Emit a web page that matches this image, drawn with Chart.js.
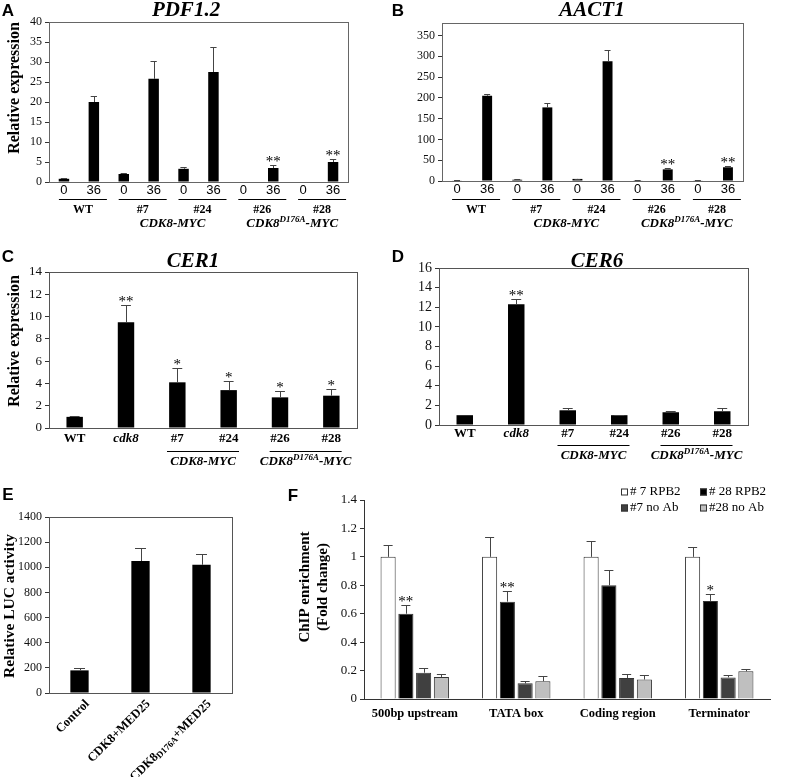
<!DOCTYPE html>
<html>
<head>
<meta charset="utf-8">
<script src="https://cdn.jsdelivr.net/npm/chart.js@4.4.0/dist/chart.umd.min.js"></script>
<style>
  body { margin: 0; background: #fff; width: 786px; height: 777px; position: relative; overflow: hidden; }
  canvas { position: absolute; }
</style>
</head>
<body>
<canvas id="panelA"></canvas>
<canvas id="panelB"></canvas>
<canvas id="panelC"></canvas>
<canvas id="panelD"></canvas>
<canvas id="panelE"></canvas>
<canvas id="panelF"></canvas>
<script>
// ---- data ----

// A / B : 0 h and 36 h for each line
const timeLabels = ["0", "36", "0", "36", "0", "36", "0", "36", "0", "36"];
const pairNames = ["WT", "#7", "#24", "#26", "#28"];
const pdfValues = [0.8, 20, 2, 25.8, 3.3, 27.5, 0, 3.5, 0, 5];
const pdfErrors = [0.2, 1.5, 0.3, 4.5, 0.5, 6.3, 0, 0.8, 0, 0.8];
const pdfStars = ["", "", "", "", "", "", "", "**", "", "**"];
const aactValues = [1, 205, 3, 177, 5, 288, 1, 28, 1, 33];
const aactErrors = [0.5, 5, 1, 10, 1, 28, 0.5, 4, 0.5, 4];
const aactStars = ["", "", "", "", "", "", "", "**", "", "**"];

// C / D
const lineLabels = ["WT", "cdk8", "#7", "#24", "#26", "#28"];
const cer1Values = [1, 9.5, 4.1, 3.4, 2.75, 2.9];
const cer1Errors = [0.05, 1.55, 1.25, 0.8, 0.6, 0.6];
const cer1Stars = ["", "**", "*", "*", "*", "*"];
const cer6Values = [1, 12.3, 1.5, 1.0, 1.3, 1.4];
const cer6Errors = [0, 0.5, 0.25, 0.05, 0.15, 0.3];
const cer6Stars = ["", "**", "", "", "", ""];

// E
const lucLabels = ["Control", "CDK8+MED25", "CDK8D176A+MED25"];
const lucValues = [180, 1050, 1020];
const lucErrors = [15, 105, 85];

// F
const regions = ["500bp upstream", "TATA box", "Coding region", "Terminator"];
const chipNames = ["# 7 RPB2", "# 28 RPB2", "#7 no Ab", "#28 no Ab"];
const chip7Rpb2 = [1, 1, 1, 1];
const chip7Rpb2Err = [0.085, 0.14, 0.11, 0.07];
const chip28Rpb2 = [0.6, 0.685, 0.8, 0.69];
const chip28Rpb2Err = [0.06, 0.075, 0.105, 0.05];
const chip28Stars = ["**", "**", "", "*"];
const chip7NoAb = [0.185, 0.11, 0.148, 0.152];
const chip7NoAbErr = [0.03, 0.02, 0.03, 0.02];
const chip28NoAb = [0.155, 0.125, 0.137, 0.195];
const chip28NoAbErr = [0.02, 0.035, 0.03, 0.013];

const SERIF = "'Liberation Serif', 'Times New Roman', serif";
const SANS = "'Liberation Sans', Arial, sans-serif";

// ---- shared plugins ----

const errorBars = {
  id: "errorBars",
  afterDatasetsDraw(chart) {
    const ctx = chart.ctx;
    const y = chart.scales.y;
    chart.data.datasets.forEach((ds, i) => {
      if (!ds.errors) return;
      const meta = chart.getDatasetMeta(i);
      meta.data.forEach((bar, j) => {
        const v = ds.data[j];
        const e = ds.errors[j] || 0;
        const top = y.getPixelForValue(v + e);
        const cap = Math.max(3, bar.width * 0.3);
        ctx.save();
        if (e > 0) {
          ctx.strokeStyle = "#444";
          ctx.lineWidth = 1;
          ctx.beginPath();
          ctx.moveTo(Math.round(bar.x) + 0.5, bar.y);
          ctx.lineTo(Math.round(bar.x) + 0.5, Math.round(top) + 0.5);
          ctx.moveTo(bar.x - cap, Math.round(top) + 0.5);
          ctx.lineTo(bar.x + cap, Math.round(top) + 0.5);
          ctx.stroke();
        }
        if (ds.stars && ds.stars[j]) {
          ctx.fillStyle = "#000";
          ctx.font = "15px " + SERIF;
          ctx.textAlign = "center";
          ctx.textBaseline = "alphabetic";
          ctx.fillText(ds.stars[j], bar.x, top + 1);
        }
        ctx.restore();
      });
    });
  },
};

function frame(color) {
  return {
    id: "frame",
    afterDraw(chart) {
      const a = chart.chartArea;
      const ctx = chart.ctx;
      ctx.save();
      ctx.strokeStyle = color;
      ctx.lineWidth = 1;
      ctx.strokeRect(Math.round(a.left) + 0.5, Math.round(a.top) + 0.5,
        Math.round(a.right - a.left), Math.round(a.bottom - a.top));
      ctx.restore();
    },
  };
}

function text(ctx, str, x, y, font, align) {
  ctx.font = font;
  ctx.fillStyle = "#000";
  ctx.textAlign = align || "center";
  ctx.textBaseline = "middle";
  ctx.fillText(str, x, y);
}

function vtext(ctx, str, x, y, font) {
  ctx.save();
  ctx.translate(x, y);
  ctx.rotate(-Math.PI / 2);
  text(ctx, str, 0, 0, font);
  ctx.restore();
}

// parts: [{t, sup, sub}], draws a string with raised/lowered small parts
function rich(ctx, parts, x, y, size, style, align) {
  const small = Math.round(size * 0.68);
  let total = 0;
  parts.forEach((p) => {
    ctx.font = style + " " + (p.sup || p.sub ? small : size) + "px " + SERIF;
    p.w = ctx.measureText(p.t).width;
    total += p.w;
  });
  let cx = align === "right" ? x - total : x - total / 2;
  ctx.fillStyle = "#000";
  ctx.textAlign = "left";
  ctx.textBaseline = "middle";
  parts.forEach((p) => {
    ctx.font = style + " " + (p.sup || p.sub ? small : size) + "px " + SERIF;
    const dy = p.sup ? -size * 0.3 : p.sub ? size * 0.2 : 0;
    ctx.fillText(p.t, cx, y + dy);
    cx += p.w;
  });
}

const mutParts = () => [{ t: "CDK8" }, { t: "D176A", sup: true }, { t: "-MYC" }];

function hline(ctx, x1, x2, y) {
  ctx.save();
  ctx.strokeStyle = "#000";
  ctx.lineWidth = 1;
  ctx.beginPath();
  ctx.moveTo(x1, Math.round(y) + 0.5);
  ctx.lineTo(x2, Math.round(y) + 0.5);
  ctx.stroke();
  ctx.restore();
}

function yAxis(max, step, font, fmt) {
  return {
    min: 0,
    max: max,
    ticks: {
      stepSize: step,
      includeBounds: false,
      autoSkip: false,
      color: "#111",
      font: font,
      padding: 3,
      callback: fmt || ((v) => String(v)),
    },
    grid: { display: true, drawOnChartArea: false, drawTicks: true, tickLength: 4, color: "#333" },
    border: { display: true, color: "#333" },
  };
}

function makePanel(id, box, area, config, deco) {
  const canvas = document.getElementById(id);
  canvas.width = box.w;
  canvas.height = box.h;
  canvas.style.left = box.x + "px";
  canvas.style.top = box.y + "px";
  const o = config.options;
  o.responsive = false;
  o.animation = false;
  o.layout = { padding: { left: 0, top: area.top - box.y, right: box.x + box.w - area.right, bottom: 0 } };
  o.plugins = Object.assign({ legend: { display: false }, tooltip: { enabled: false } }, o.plugins || {});
  o.scales.y.afterFit = (s) => { s.width = area.left - box.x; };
  o.scales.x.afterFit = (s) => { s.height = box.y + box.h - area.bottom; };
  config.plugins = (config.plugins || []).concat([{
    id: "deco",
    afterDraw(chart) {
      const ctx = chart.ctx;
      ctx.save();
      ctx.translate(-box.x, -box.y);
      deco(chart, ctx, (i) => chart.scales.x.getPixelForValue(i) + box.x);
      ctx.restore();
    },
  }]);
  return new Chart(canvas, config);
}

function pairAxisX() {
  return {
    grid: { display: false, drawTicks: false },
    border: { display: false },
    ticks: { color: "#000", font: { family: SANS, size: 13 }, padding: 1, autoSkip: false, maxRotation: 0 },
  };
}

function pairDeco(letter, title, titleX, withYLabel) {
  return (chart, ctx, px) => {
    text(ctx, letter, letter === "A" ? 8 : 398, 11, "bold 17px " + SANS);
    text(ctx, title, titleX, 11, "italic bold 21px " + SERIF);
    if (withYLabel) vtext(ctx, "Relative expression", 15, 88, "bold 16px " + SERIF);
    const centers = pairNames.map((n, k) => (px(2 * k) + px(2 * k + 1)) / 2 + 4);
    pairNames.forEach((n, k) => {
      hline(ctx, centers[k] - 24, centers[k] + 24, 199);
      text(ctx, n, centers[k], 210, "bold 12px " + SERIF);
    });
    rich(ctx, [{ t: "CDK8-MYC" }], (centers[1] + centers[2]) / 2, 224, 13, "italic bold", "center");
    rich(ctx, mutParts(), (centers[3] + centers[4]) / 2, 224, 13, "italic bold", "center");
  };
}

// ---- A : PDF1.2 ----
makePanel("panelA", { x: 0, y: 0, w: 390, h: 240 }, { left: 49, right: 348, top: 22, bottom: 182 }, {
  type: "bar",
  data: {
    labels: timeLabels,
    datasets: [{ data: pdfValues, errors: pdfErrors, stars: pdfStars, backgroundColor: "#000",
      barPercentage: 0.35, categoryPercentage: 1 }],
  },
  options: { scales: { x: pairAxisX(), y: yAxis(40, 5, { family: SERIF, size: 12 }) } },
  plugins: [errorBars, frame("#666")],
}, pairDeco("A", "PDF1.2", 186, true));

// ---- B : AACT1 ----
makePanel("panelB", { x: 390, y: 0, w: 396, h: 240 }, { left: 442, right: 743, top: 23, bottom: 181 }, {
  type: "bar",
  data: {
    labels: timeLabels,
    datasets: [{ data: aactValues, errors: aactErrors, stars: aactStars, backgroundColor: "#000",
      barPercentage: 0.33, categoryPercentage: 1 }],
  },
  options: { scales: { x: pairAxisX(), y: yAxis(380, 50, { family: SERIF, size: 12 }) } },
  plugins: [errorBars, frame("#666")],
}, pairDeco("B", "AACT1", 592, false));

// ---- C / D : CER1, CER6 ----
function lineAxisX(pad) {
  return {
    grid: { display: false, drawTicks: false },
    border: { display: false },
    ticks: {
      color: "#000",
      padding: pad,
      autoSkip: false,
      maxRotation: 0,
      font: (c) => ({ family: SERIF, size: 13, weight: "bold", style: c.index === 1 ? "italic" : "normal" }),
    },
  };
}

function lineDeco(letter, letterX, title, titleX, lineY, labelY, withYLabel) {
  return (chart, ctx, px) => {
    text(ctx, letter, letterX, 257, "bold 17px " + SANS);
    text(ctx, title, titleX, 262, "italic bold 21px " + SERIF);
    if (withYLabel) vtext(ctx, "Relative expression", 15, 341, "bold 16px " + SERIF);
    const c1 = (px(2) + px(3)) / 2;
    const c2 = (px(4) + px(5)) / 2;
    hline(ctx, c1 - 36, c1 + 36, lineY);
    hline(ctx, c2 - 36, c2 + 36, lineY);
    rich(ctx, [{ t: "CDK8-MYC" }], c1, labelY, 13, "italic bold", "center");
    rich(ctx, mutParts(), c2, labelY, 13, "italic bold", "center");
  };
}

makePanel("panelC", { x: 0, y: 245, w: 390, h: 222 }, { left: 49, right: 357, top: 272, bottom: 428 }, {
  type: "bar",
  data: {
    labels: lineLabels,
    datasets: [{ data: cer1Values, errors: cer1Errors, stars: cer1Stars, backgroundColor: "#000",
      barPercentage: 0.32, categoryPercentage: 1 }],
  },
  options: { scales: { x: lineAxisX(3), y: yAxis(14, 2, { family: SERIF, size: 13 }) } },
  plugins: [errorBars, frame("#555")],
}, lineDeco("C", 8, "CER1", 193, 451, 462, true));

makePanel("panelD", { x: 390, y: 245, w: 396, h: 222 }, { left: 439, right: 748, top: 268, bottom: 425 }, {
  type: "bar",
  data: {
    labels: lineLabels,
    datasets: [{ data: cer6Values, errors: cer6Errors, stars: cer6Stars, backgroundColor: "#000",
      barPercentage: 0.32, categoryPercentage: 1 }],
  },
  options: { scales: { x: lineAxisX(1), y: yAxis(16, 2, { family: SERIF, size: 14 }) } },
  plugins: [errorBars, frame("#555")],
}, lineDeco("D", 398, "CER6", 597, 445, 456, false));

// ---- E : LUC activity ----
makePanel("panelE", { x: 0, y: 470, w: 260, h: 307 }, { left: 49, right: 232, top: 517, bottom: 693 }, {
  type: "bar",
  data: {
    labels: lucLabels,
    datasets: [{ data: lucValues, errors: lucErrors, backgroundColor: "#000",
      barPercentage: 0.3, categoryPercentage: 1 }],
  },
  options: {
    scales: {
      x: { grid: { display: false, drawTicks: false }, border: { display: false }, ticks: { display: false } },
      y: yAxis(1400, 200, { family: SERIF, size: 12 }),
    },
  },
  plugins: [errorBars, frame("#555")],
}, (chart, ctx, px) => {
  text(ctx, "E", 8, 495, "bold 17px " + SANS);
  vtext(ctx, "Relative LUC activity", 10, 606, "bold 15.5px " + SERIF);
  chart.data.labels.forEach((lab, i) => {
    const m = lab.match(/^(CDK8)(D176A)(\+MED25)$/);
    const parts = m ? [{ t: m[1] }, { t: m[2], sub: true }, { t: m[3] }] : [{ t: lab }];
    ctx.save();
    ctx.translate(px(i) + 8, 702);
    ctx.rotate(-Math.PI / 4);
    rich(ctx, parts, 0, 0, 12.5, "bold", "right");
    ctx.restore();
  });
});

// ---- F : ChIP ----
const chipColors = ["#ffffff", "#000000", "#404040", "#bfbfbf"];
const chipData = [chip7Rpb2, chip28Rpb2, chip7NoAb, chip28NoAb];
const chipErrs = [chip7Rpb2Err, chip28Rpb2Err, chip7NoAbErr, chip28NoAbErr];

makePanel("panelF", { x: 260, y: 470, w: 526, h: 307 }, { left: 364, right: 770, top: 500, bottom: 699 }, {
  type: "bar",
  data: {
    labels: regions,
    datasets: chipNames.map((name, k) => ({
      label: name,
      data: chipData[k],
      errors: chipErrs[k],
      stars: k === 1 ? chip28Stars : null,
      backgroundColor: chipColors[k],
      borderColor: "#333",
      borderWidth: 1,
      barPercentage: 0.85,
      categoryPercentage: 0.7,
    })),
  },
  options: {
    scales: {
      x: {
        grid: { display: false, drawTicks: false },
        border: { display: true, color: "#333" },
        ticks: { color: "#000", padding: 7, autoSkip: false, maxRotation: 0,
          font: { family: SERIF, size: 12.5, weight: "bold" } },
      },
      y: yAxis(1.4, 0.2, { family: SERIF, size: 13 }, (v) => String(+Number(v).toFixed(1))),
    },
  },
  plugins: [errorBars],
}, (chart, ctx, px) => {
  text(ctx, "F", 293, 496, "bold 17px " + SANS);
  vtext(ctx, "ChIP enrichment", 305, 587, "bold 15px " + SERIF);
  vtext(ctx, "(Fold change)", 323, 587, "bold 15px " + SERIF);
  const spots = [[621, 492], [700, 492], [621, 508], [700, 508]];
  chart.data.datasets.forEach((ds, k) => {
    const [lx, ly] = spots[k];
    ctx.fillStyle = ds.backgroundColor;
    ctx.fillRect(lx, ly - 3.5, 7, 7);
    ctx.strokeStyle = "#333";
    ctx.lineWidth = 1;
    ctx.strokeRect(lx + 0.5, ly - 3, 6, 6);
    text(ctx, ds.label, lx + 9, ly, "13px " + SERIF, "left");
  });
});
</script>
</body>
</html>
